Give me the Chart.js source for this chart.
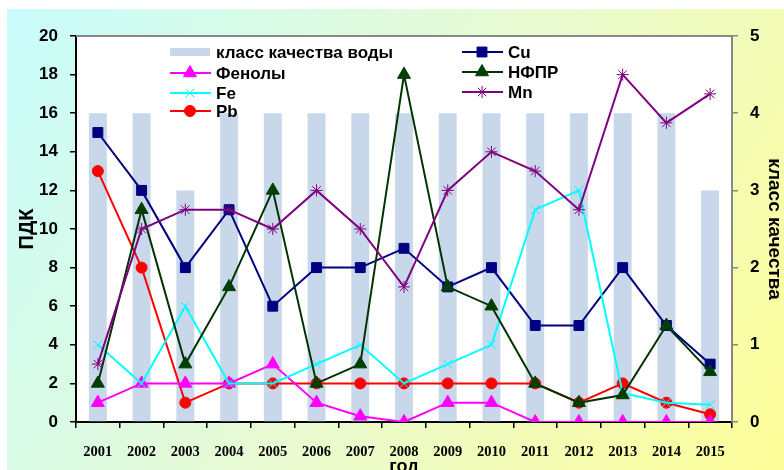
<!DOCTYPE html>
<html>
<head>
<meta charset="utf-8">
<script src="https://cdn.jsdelivr.net/npm/chart.js@4/dist/chart.umd.min.js"></script>
<style>
html, body { margin: 0; padding: 0; background: #fff; overflow: hidden; }
</style>
</head>
<body>
<canvas id="chart" width="784" height="470"></canvas>
<script>
// data
const years = ['2001', '2002', '2003', '2004', '2005', '2006', '2007', '2008',
               '2009', '2010', '2011', '2012', '2013', '2014', '2015'];
const klass = [4, 4, 3, 4, 4, 4, 4, 4, 4, 4, 4, 4, 4, 4, 3];
const fenoly = [1, 2, 2, 2, 3, 1, 0.3, 0, 1, 1, 0, 0, 0, 0, 0];
const fe = [4, 2, 6, 2, 2, 3, 4, 2, 3, 4, 11, 12, 1.5, 1, 0.9];
const pb = [13, 8, 1, 2, 2, 2, 2, 2, 2, 2, 2, 1, 2, 1, 0.4];
const cu = [15, 12, 8, 11, 6, 8, 8, 9, 7, 8, 5, 5, 8, 5, 3];
const nfpr = [2, 11, 3, 7, 12, 2, 3, 18, 7, 6, 2, 1, 1.4, 5, 2.6];
const mn = [3, 10, 11, 11, 10, 12, 10, 7, 12, 14, 13, 11, 18, 15.5, 17];

const SANS = 'Liberation Sans, Arial, sans-serif';
const SERIF = 'Liberation Serif, Times New Roman, serif';

function lineSet(label, data, color, style, radius, fill) {
    return {
        type: 'line', label: label, data: data, yAxisID: 'y', order: 0,
        borderColor: color, borderWidth: 2,
        pointStyle: style, pointRadius: radius, pointHoverRadius: radius,
        pointBackgroundColor: fill || color, pointBorderColor: fill || color,
        pointBorderWidth: 1, tension: 0
    };
}

// background gradient + white plot area
const backdrop = {
    id: 'backdrop',
    beforeDraw(chart) {
        const ctx = chart.ctx, a = chart.chartArea;
        ctx.save();
        const g = ctx.createLinearGradient(7, 9, 784, 470);
        g.addColorStop(0, '#c8fcfc');
        g.addColorStop(0.5, '#e8fad2');
        g.addColorStop(1, '#fefe98');
        ctx.fillStyle = g;
        ctx.fillRect(7, 9, 777, 461);
        ctx.fillStyle = '#fff';
        ctx.fillRect(a.left, a.top, a.right - a.left, a.bottom - a.top);
        ctx.restore();
    },
    afterDraw(chart) {
        const ctx = chart.ctx, a = chart.chartArea;
        ctx.save();
        ctx.strokeStyle = '#888';
        ctx.lineWidth = 2;
        ctx.beginPath();
        ctx.moveTo(a.left, a.top);
        ctx.lineTo(a.right, a.top);
        ctx.stroke();
        ctx.restore();
    }
};

// legend laid out in two columns inside the plot, like the original
const legendItems = [
    { label: 'класс качества воды', x: 170, y: 52 },
    { label: 'Фенолы', x: 170, y: 73 },
    { label: 'Fe', x: 170, y: 93 },
    { label: 'Pb', x: 170, y: 111 },
    { label: 'Cu', x: 462, y: 52 },
    { label: 'НФПР', x: 462, y: 72 },
    { label: 'Mn', x: 462, y: 92 }
];
const boxLegend = {
    id: 'boxLegend',
    afterDraw(chart) {
        const ctx = chart.ctx;
        ctx.save();
        legendItems.forEach(item => {
            const ds = chart.data.datasets.find(d => d.label === item.label);
            if (ds.type === 'bar') {
                ctx.fillStyle = ds.backgroundColor;
                ctx.fillRect(item.x, item.y - 4, 40, 8);
            } else {
                ctx.strokeStyle = ds.borderColor;
                ctx.lineWidth = 2;
                ctx.beginPath();
                ctx.moveTo(item.x, item.y);
                ctx.lineTo(item.x + 41, item.y);
                ctx.stroke();
                ctx.fillStyle = ds.pointBackgroundColor;
                ctx.strokeStyle = ds.pointBorderColor;
                ctx.lineWidth = 1;
                Chart.helpers.drawPoint(ctx, {
                    pointStyle: ds.pointStyle, radius: ds.pointRadius,
                    rotation: 0, borderWidth: 1
                }, item.x + 20, item.y);
            }
            ctx.fillStyle = '#000';
            ctx.font = 'bold 17px ' + SANS;
            ctx.textBaseline = 'middle';
            ctx.fillText(item.label, item.x + 46, item.y + 1);
        });
        ctx.restore();
    }
};

new Chart(document.getElementById('chart'), {
    data: {
        labels: years,
        datasets: [
            {
                type: 'bar', label: 'класс качества воды', data: klass, yAxisID: 'y2', order: 10,
                backgroundColor: '#c9d7ea', barPercentage: 0.41, categoryPercentage: 1
            },
            lineSet('Mn', mn, '#800080', 'star', 6),
            lineSet('НФПР', nfpr, '#003300', 'triangle', 7.5, '#003f00'),
            lineSet('Fe', fe, '#00ffff', 'crossRot', 6),
            lineSet('Cu', cu, '#000080', 'rect', 7),
            lineSet('Фенолы', fenoly, '#ff00ff', 'triangle', 7.5),
            lineSet('Pb', pb, '#ff0000', 'circle', 5.5)
        ]
    },
    options: {
        responsive: false,
        animation: false,
        layout: { padding: { top: 36, left: 0, right: 0, bottom: 0 } },
        plugins: { legend: { display: false }, tooltip: { enabled: false } },
        scales: {
            x: {
                offset: true,
                afterFit: s => { s.height = 48; },
                grid: { offset: true, drawOnChartArea: false, tickLength: 6, color: '#000', lineWidth: 1.5 },
                border: { color: '#000', width: 2 },
                ticks: { color: '#000', padding: 16, font: { family: SERIF, size: 14.5, weight: 'bold' }, maxRotation: 0 },
                title: { display: true, text: 'год', color: '#000', padding: { top: 0, bottom: -6 },
                         font: { family: SANS, size: 18, weight: 'bold', lineHeight: 1 } }
            },
            y: {
                position: 'left', min: 0, max: 20,
                afterFit: s => { s.width = 76; },
                grid: { drawOnChartArea: false, tickLength: 6, color: '#000', lineWidth: 1.5 },
                border: { color: '#000', width: 2 },
                ticks: { stepSize: 2, color: '#000', padding: 12, font: { family: SANS, size: 17, weight: 'bold' } },
                title: { display: true, text: 'ПДК', color: '#000', padding: { top: 17, bottom: 0 },
                         font: { family: SANS, size: 20, weight: 'bold', lineHeight: 1 } }
            },
            y2: {
                position: 'right', min: 0, max: 5,
                afterFit: s => { s.width = 52; },
                grid: { drawOnChartArea: false, tickLength: 6, color: '#888', lineWidth: 1.5 },
                border: { color: '#888', width: 2 },
                ticks: { stepSize: 1, color: '#000', padding: 12, font: { family: SANS, size: 17, weight: 'bold' } },
                title: { display: true, text: 'класс качества', color: '#000', padding: { top: 0, bottom: 0 },
                         font: { family: SANS, size: 19, weight: 'bold', lineHeight: 1 } }
            }
        }
    },
    plugins: [backdrop, boxLegend]
});
</script>
</body>
</html>
